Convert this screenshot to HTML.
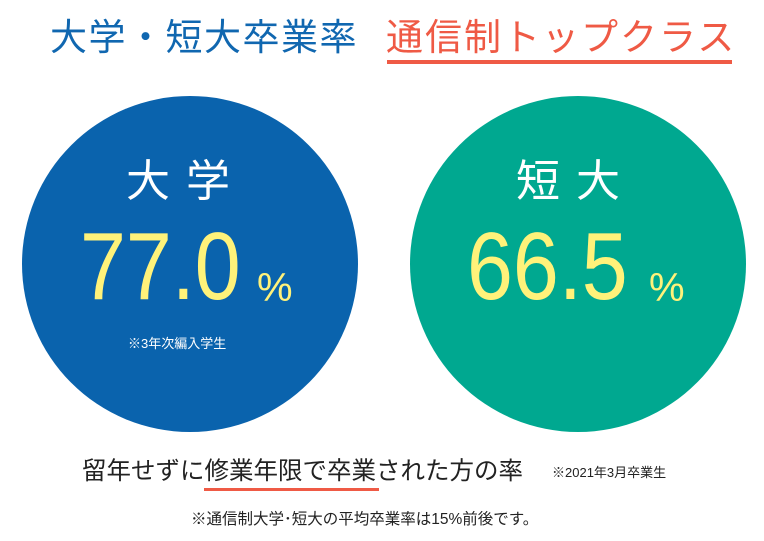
<!DOCTYPE html>
<html><head><meta charset="utf-8"><style>
body{margin:0;width:764px;height:541px;background:#fff;position:relative;overflow:hidden;font-family:"Liberation Sans","Noto Sans CJK JP",sans-serif}
.a{position:absolute;white-space:nowrap;line-height:1}
.c{position:absolute;border-radius:50%;width:336px;height:336px;top:96px}
.num{font-size:96px;color:#fff27a;transform-origin:0 0;transform:scaleX(0.86)}
.pct{font-size:40px;color:#fff27a}
</style></head><body>
<div class="a" style="left:50px;top:19px;font-size:37px;color:#1067b0;letter-spacing:1.5px">大学・短大卒業率</div>
<div class="a" style="left:386px;top:19px;font-size:37px;color:#ef5a45;letter-spacing:2px">通信制トップクラス</div>
<div class="a" style="left:387px;top:60px;width:345px;height:4px;background:#ef5a45"></div>

<div class="c" style="left:22px;background:#0a63ad"></div>
<div class="a" style="left:126px;top:160px;font-size:44px;color:#fff;letter-spacing:16px">大学</div>
<div class="a num" style="left:80px;top:219px">77.0</div>
<div class="a pct" style="left:257px;top:268px">%</div>
<div class="a" style="left:128px;top:337px;font-size:13px;color:#fff">※3年次編入学生</div>

<div class="c" style="left:410px;background:#00a890"></div>
<div class="a" style="left:516px;top:160px;font-size:44px;color:#fff;letter-spacing:16px">短大</div>
<div class="a num" style="left:467px;top:219px">66.5</div>
<div class="a pct" style="left:649px;top:268px">%</div>

<div class="a" style="left:82px;top:460px;font-size:24.5px;color:#222">留年せずに修業年限で卒業された方の率</div>
<div class="a" style="left:204px;top:488px;width:175px;height:3px;background:#ef5a45"></div>
<div class="a" style="left:552px;top:466px;font-size:13px;color:#222">※2021年3月卒業生</div>
<div class="a" style="left:191px;top:512px;font-size:15.5px;color:#222">※通信制大学･短大の平均卒業率は15%前後です。</div>
</body></html>
